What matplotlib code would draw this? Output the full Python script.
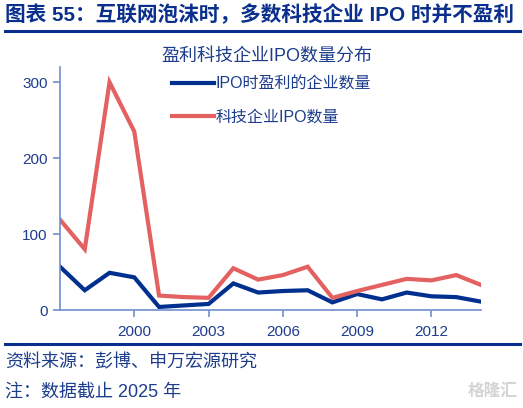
import matplotlib
matplotlib.use("Agg")
import matplotlib.pyplot as plt
from matplotlib.lines import Line2D

plt.rcParams['font.family'] = ['Liberation Sans', 'Noto Sans CJK SC', 'DejaVu Sans']

years = list(range(1997, 2015))
profitable_ipo = [57, 26, 49, 43, 4, 6, 8, 35, 23, 25, 26, 10, 21, 14, 23, 18, 17, 11]
tech_ipo = [119, 80, 300, 235, 19, 17, 16, 55, 40, 46, 57, 16, 25, 33, 41, 39, 46, 33]
xticks = [2000, 2003, 2006, 2009, 2012]
yticks = [0, 100, 200, 300]

title = "图表 55：互联网泡沫时，多数科技企业 IPO 时并不盈利"
chart_title = "盈利科技企业IPO数量分布"
label_profit = "IPO时盈利的企业数量"
label_tech = "科技企业IPO数量"
source = "资料来源：彭博、申万宏源研究"
note = "注：数据截止 2025 年"

NAVY = "#0a2f8c"
BLUE_LINE = "#00308f"
RED_LINE = "#e46161"
SPINE = "#6f8fd0"
TEXT = "#1c3c8c"

W, H = 523, 408
fig = plt.figure(figsize=(W / 100, H / 100), dpi=100)

def fx(px):
    return px / W

def fy(py):
    return 1 - py / H

ax = fig.add_axes([fx(60), fy(310), fx(481) - fx(60), fy(67) - fy(310)])
ax.plot(years, profitable_ipo, color=BLUE_LINE, lw=3.0, solid_joinstyle='miter', label=label_profit)
ax.plot(years, tech_ipo, color=RED_LINE, lw=3.0, solid_joinstyle='miter', label=label_tech)
ax.set_xlim(1997, 2014)
ax.set_ylim(0, 320)
ax.set_xticks(xticks)
ax.set_xticklabels([str(x) for x in xticks])
ax.set_yticks(yticks)
ax.set_yticklabels([str(y) for y in yticks])
for s in ['top', 'right']:
    ax.spines[s].set_visible(False)
for s in ['left', 'bottom']:
    ax.spines[s].set_color(SPINE)
    ax.spines[s].set_linewidth(1.2)
ax.tick_params(axis='both', colors=SPINE, labelcolor=TEXT, labelsize=11, length=5, width=1.2, direction='out')
ax.tick_params(axis='x', pad=6)
ax.tick_params(axis='y', pad=4)

leg = ax.legend(loc='upper left', frameon=False, fontsize=11.5, labelspacing=1.15,
                handlelength=2.6, handletextpad=0.15, borderaxespad=0.0, borderpad=0.0)
leg.set_bbox_to_anchor((fx(172), fy(76)), transform=fig.transFigure)
for t in leg.get_texts():
    t.set_color(TEXT)

fig.text(fx(267), fy(56), chart_title, ha='center', va='center', fontsize=13, color=TEXT)

fig.text(fx(5), fy(15), title, ha='left', va='center', fontsize=14.9, fontweight='bold', color=NAVY)
fig.add_artist(Line2D([fx(5), fx(520)], [fy(31), fy(31)], color=NAVY, lw=2.2))
fig.add_artist(Line2D([fx(5), fx(520)], [fy(344), fy(344)], color=NAVY, lw=2.2))

fig.text(fx(5), fy(363), source, ha='left', va='center', fontsize=13, color=TEXT)
fig.text(fx(5), fy(392), note, ha='left', va='center', fontsize=13, color=TEXT)
fig.text(fx(518), fy(391), "格隆汇", ha='right', va='center', fontsize=12, color="#d4d4d4", fontweight='bold')

fig.savefig("out.png", dpi=100)
